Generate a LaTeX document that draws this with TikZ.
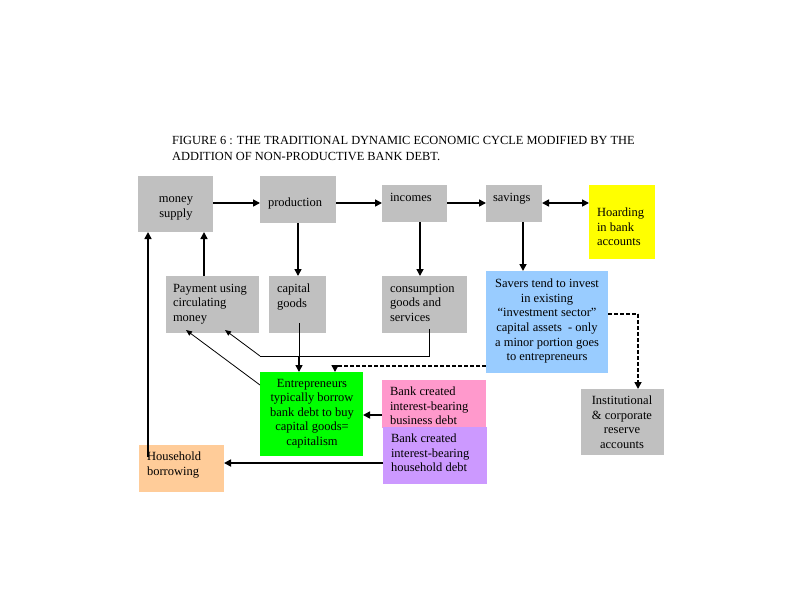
\documentclass[tikz,border=0pt]{standalone}
\usepackage{fontspec}
\setmainfont{Liberation Serif}
\usetikzlibrary{arrows.meta}
\definecolor{boxgray}{RGB}{192,192,192}
\definecolor{boxyellow}{RGB}{255,255,0}
\definecolor{boxblue}{RGB}{153,204,255}
\definecolor{boxgreen}{RGB}{0,255,0}
\definecolor{boxpink}{RGB}{255,153,204}
\definecolor{boxpurple}{RGB}{204,153,255}
\definecolor{boxorange}{RGB}{255,204,153}
\begin{document}
\begin{tikzpicture}[x=1pt,y=-1pt,
  box/.style={draw=none,inner sep=0,outer sep=0,anchor=north west},
  txt/.style={inner sep=0,outer sep=0,anchor=north west,align=left,font=\fontsize{12.5}{14.6}\selectfont},
  ctxt/.style={inner sep=0,outer sep=0,anchor=north,align=center,font=\fontsize{12.5}{14.6}\selectfont},
  arr/.style={-{Triangle[length=7pt,width=7pt]},line width=1.6pt},
  thinarr/.style={-{Triangle[length=6pt,width=5pt]},line width=0.8pt},
  thinline/.style={line width=0.8pt},
  dashline/.style={line width=1.6pt,dash pattern=on 4pt off 2pt}
]
\useasboundingbox[fill=white] (0,0) rectangle (800,600);

% title
\node[inner sep=0,anchor=north west,align=left,font=\fontsize{12.4}{16}\selectfont] (title) at (172,136)
  {FIGURE 6 : THE TRADITIONAL DYNAMIC ECONOMIC CYCLE MODIFIED BY THE\\ADDITION OF NON-PRODUCTIVE BANK DEBT.};

% boxes
\node[box,fill=boxgray,minimum width=75,minimum height=56] (ms) at (138,176) {};
\node[box,fill=boxgray,minimum width=76,minimum height=47] (prod) at (260,176) {};
\node[box,fill=boxgray,minimum width=65,minimum height=37] (inc) at (382,185) {};
\node[box,fill=boxgray,minimum width=56,minimum height=37] (sav) at (486,185) {};
\node[box,fill=boxyellow,minimum width=66,minimum height=74] (hoard) at (589,185) {};
\node[box,fill=boxgray,minimum width=93,minimum height=57] (pay) at (166,276) {};
\node[box,fill=boxgray,minimum width=57,minimum height=57] (cap) at (269,276) {};
\node[box,fill=boxgray,minimum width=85,minimum height=57] (cons) at (382,276) {};
\node[box,fill=boxblue,minimum width=122,minimum height=102] (savers) at (486,271) {};
\node[box,fill=boxgray,minimum width=83,minimum height=66] (inst) at (581,389) {};
\node[box,fill=boxpink,minimum width=104,minimum height=48] (bus) at (382,380) {};
\node[box,fill=boxpurple,minimum width=104,minimum height=57] (hh) at (383,427) {};
\node[box,fill=boxgreen,minimum width=103,minimum height=84] (ent) at (260,372) {};
\node[box,fill=boxorange,minimum width=85,minimum height=47] (hb) at (139,445) {};

% texts
\node[ctxt] (msT) at (176,197) {money\\supply};
\node[txt] (prodT) at (268,198) {production};
\node[txt] (incT) at (390,193) {incomes};
\node[txt] (savT) at (493,193) {savings};
\node[txt] (hoardT) at (597,208) {Hoarding\\in bank\\accounts};
\node[txt] (payT) at (173,284) {Payment using\\circulating\\money};
\node[txt] (capT) at (277,284) {capital\\goods};
\node[txt] (consT) at (390,284) {consumption\\goods and\\services};
\node[ctxt] (saversT) at (547,279) {Savers tend to invest\\in existing\\``investment sector''\\capital assets \ - only\\a minor portion goes\\to entrepreneurs};
\node[ctxt] (instT) at (622,396) {Institutional\\\& corporate\\reserve\\accounts};
\node[txt] (busT) at (390,387) {Bank created\\interest-bearing\\business debt};
\node[txt] (hhT) at (391,434) {Bank created\\interest-bearing\\household debt};
\node[ctxt] (entT) at (312,379) {Entrepreneurs\\typically borrow\\bank debt to buy\\capital goods=\\capitalism};
\node[txt] (hbT) at (147,452) {Household\\borrowing};

% helper coordinates
\coordinate (hbIn) at (148,457);
\coordinate (capIn) at (299,323);
\coordinate (capJ) at (299,357);
\coordinate (consIn) at (429,329);
\coordinate (consJ) at (429,356);
\coordinate (mJ) at (260,356);
\coordinate (entL) at (260,385);
\coordinate (dJ) at (335,366);
\coordinate (rJ) at (638,314);
\coordinate (payA) at (225,330);
\coordinate (payB) at (186,330);

% top row arrows
\draw[arr] (ms.east |- 0,203) -- (prod.west |- 0,203);
\draw[arr] (prod.east |- 0,203) -- (inc.west |- 0,203);
\draw[arr] (inc.east |- 0,203) -- (sav.west |- 0,203);
\draw[{Triangle[length=7pt,width=7pt]}-{Triangle[length=7pt,width=7pt]},line width=1.6pt] (sav.east |- 0,203) -- (hoard.west |- 0,203);

% down arrows
\draw[arr] (prod.south -| 298,0) -- (cap.north -| 298,0);
\draw[arr] (inc.south -| 420,0) -- (cons.north -| 420,0);
\draw[arr] (sav.south -| 523,0) -- (savers.north -| 523,0);

% up arrows
\draw[arr] (pay.north -| 204,0) -- (ms.south -| 204,0);
\draw[arr] (hbIn) -- (ms.south -| hbIn);

% thin connectors
\draw[thinline] (capIn) -- (capJ);
\draw[arr] (capJ) -- (ent.north -| capJ);
\draw[thinline] (consIn) -- (consJ) -- (mJ);
\draw[thinarr] (mJ) -- (payA);
\draw[thinarr] (entL) -- (payB);

% dashed
\draw[dashline] (savers.west |- dJ) -- (dJ);
\draw[arr] (dJ) -- (ent.north -| dJ);
\draw[dashline] (savers.east |- rJ) -- (rJ);
\draw[dashline,-{Triangle[length=7pt,width=7pt]}] (rJ) -- (inst.north -| rJ);

% debt arrows
\draw[arr] (bus.west |- 0,415) -- (ent.east |- 0,415);
\draw[arr] (hh.west |- 0,463) -- (hb.east |- 0,463);
\end{tikzpicture}
\end{document}
